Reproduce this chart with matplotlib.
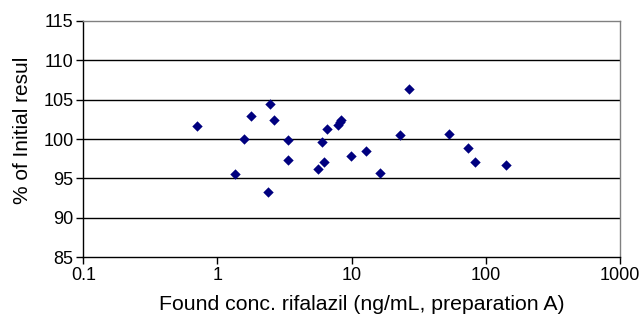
import matplotlib
matplotlib.use("Agg")
import matplotlib.pyplot as plt
import numpy as np

plt.rcParams['font.family'] = ['Liberation Sans', 'DejaVu Sans']

conc = [0.70, 1.77, 2.46, 2.64, 1.57, 3.35, 3.35, 1.35, 2.37, 5.58, 6.25, 5.97,
        6.51, 7.95, 8.15, 8.37, 9.88, 12.9, 16.4, 22.9, 26.7, 53.1, 74.0, 82.5, 140.6]
pct = [101.6, 102.9, 104.5, 102.4, 100.0, 99.9, 97.35, 95.6, 93.25, 96.2, 97.1, 99.6,
       101.3, 101.8, 102.1, 102.4, 97.85, 98.5, 95.7, 100.5, 106.3, 100.6, 98.8, 97.05, 96.7]
yticks = [85, 90, 95, 100, 105, 110, 115]
xticks = [0.1, 1, 10, 100, 1000]
xticklabels = ['0.1', '1', '10', '100', '1000']

fig = plt.figure(figsize=(6.43, 3.21), dpi=100)
ax = fig.add_axes([0.1296, 0.1984, 0.8346, 0.7371])
ax.set_xscale('log')
ax.set_xlim(0.1, 1000)
ax.set_ylim(85, 115)
for y in yticks[1:-1]:
    ax.axhline(y, color='black', lw=1.0, zorder=1)
ax.scatter(conc, pct, marker='D', s=28, color='#00007f', zorder=3, linewidths=0)

ax.set_yticks(yticks)
ax.set_yticklabels([str(v) for v in yticks], fontsize=13)
ax.set_xticks(xticks)
ax.set_xticklabels(xticklabels, fontsize=13)
ax.xaxis.set_minor_locator(matplotlib.ticker.NullLocator())
ax.tick_params(axis='both', direction='out', length=5, width=1, color='black', pad=2)
ax.tick_params(axis='x', pad=2)
for s in ['left', 'bottom']:
    ax.spines[s].set_color('black')
    ax.spines[s].set_linewidth(1)
for s in ['top', 'right']:
    ax.spines[s].set_color('#808080')
    ax.spines[s].set_linewidth(1)

fig.text(362/643, 1-304/321, 'Found conc. rifalazil (ng/mL, preparation A)', ha='center', va='center', fontsize=15.3)
fig.text(23/643, 1-130/321, '% of Initial resul', ha='center', va='center', rotation=90, fontsize=15)

fig.savefig('out.png', dpi=100)
